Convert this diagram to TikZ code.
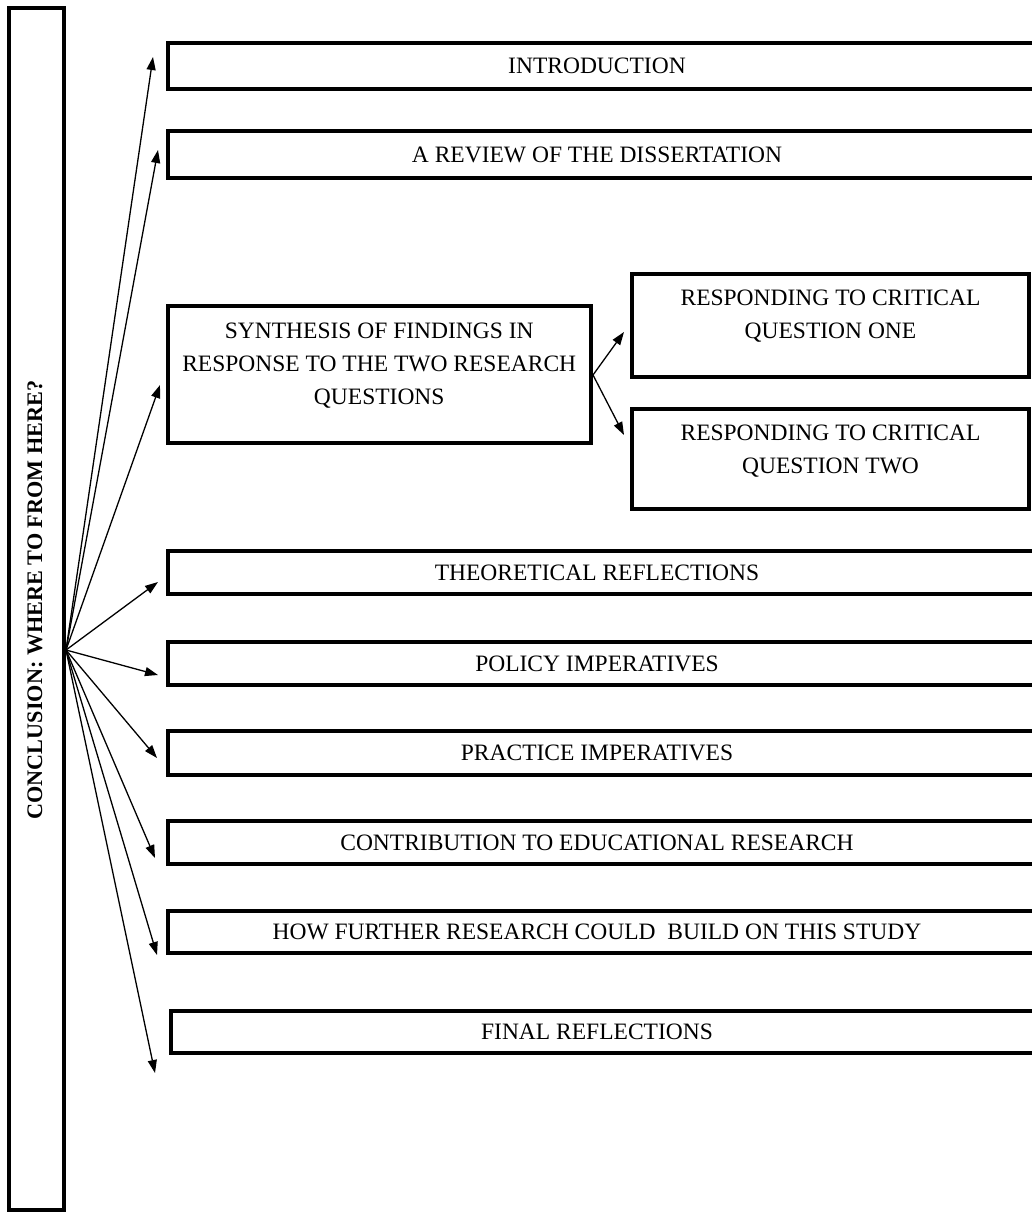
\documentclass[tikz,border=0pt]{standalone}
\usepackage{fontspec}
\setmainfont{Liberation Serif}
\usetikzlibrary{arrows.meta,calc}
\begin{document}
\begin{tikzpicture}[x=1pt,y=-1pt,
  box/.style={draw=black, line width=4pt, inner sep=0pt, outer sep=0pt, rectangle},
  lbl/.style={font=\fontsize{23.5}{33}\selectfont, inner sep=0pt, align=center, text height=15.5pt, text depth=0pt},
  side/.style={font=\fontsize{22.2}{28}\selectfont\bfseries, inner sep=0pt, rotate=90},
  arr/.style={line width=1.3pt, -{Triangle[length=13pt,width=9pt]}}
]
\useasboundingbox (0,0) rectangle (1032,1212);
\begin{scope}
\clip (0,0) rectangle (1032,1212);
% left bar
\node[box, minimum width=55pt, minimum height=1202pt] (bar) at (36.5,609) {};
\node[side] (bartext) at (35,600) {CONCLUSION: WHERE TO FROM HERE?};
% boxes
\node[box, minimum width=872.5pt, minimum height=45.5pt] (intro) at (603.75,66.25) {};
\node[box, minimum width=872.5pt, minimum height=46pt] (review) at (603.75,154.5) {};
\node[box, minimum width=423.5pt, minimum height=137.5pt] (syn) at (379.25,374.25) {};
\node[box, minimum width=397pt, minimum height=102.5pt] (q1) at (830.5,325.25) {};
\node[box, minimum width=397pt, minimum height=100pt] (q2) at (830.5,459) {};
\node[box, minimum width=872.5pt, minimum height=43.5pt] (theo) at (603.75,572.25) {};
\node[box, minimum width=872.5pt, minimum height=43pt] (policy) at (603.75,663.5) {};
\node[box, minimum width=872.5pt, minimum height=44pt] (practice) at (603.75,753) {};
\node[box, minimum width=872.5pt, minimum height=43pt] (contrib) at (603.75,842.5) {};
\node[box, minimum width=872.5pt, minimum height=42pt] (how) at (603.75,931.5) {};
\node[box, minimum width=869pt, minimum height=42pt] (final) at (605.5,1031.5) {};
\end{scope}
% labels
\node[lbl] (tintro) at (597,66.25) {INTRODUCTION};
\node[lbl] (treview) at (597,154.5) {A REVIEW OF THE DISSERTATION};
\node[lbl] (tsyn) at (379.25,396.25) {SYNTHESIS OF FINDINGS IN\\RESPONSE TO THE TWO RESEARCH\\QUESTIONS};
\node[lbl] (tq1) at (830.5,330.25) {RESPONDING TO CRITICAL\\QUESTION ONE};
\node[lbl] (tq2) at (830.5,465.25) {RESPONDING TO CRITICAL\\QUESTION TWO};
\node[lbl] (ttheo) at (597,572.25) {THEORETICAL REFLECTIONS};
\node[lbl] (tpolicy) at (597,663.5) {POLICY IMPERATIVES};
\node[lbl] (tpractice) at (597,753) {PRACTICE IMPERATIVES};
\node[lbl] (tcontrib) at (597,842.5) {CONTRIBUTION TO EDUCATIONAL RESEARCH};
\node[lbl] (thow) at (597,931.5) {HOW FURTHER RESEARCH COULD~~BUILD ON THIS STUDY};
\node[lbl] (tfinal) at (597,1031.5) {FINAL REFLECTIONS};
% arrow ends
\coordinate (o) at (66,650);
\coordinate (eintro) at (153,57);
\coordinate (ereview) at (158,150);
\coordinate (esyn) at (160,385);
\coordinate (etheo) at (158,582);
\coordinate (epolicy) at (158,675);
\coordinate (epractice) at (157,758);
\coordinate (econtrib) at (155,858);
\coordinate (ehow) at (157,955);
\coordinate (efinal) at (155,1073);
\coordinate (s) at (593,375);
\coordinate (eq1) at (624,332);
\coordinate (eq2) at (624,435);
\foreach \e in {eintro,ereview,esyn,etheo,epolicy,epractice,econtrib,ehow,efinal}
  \draw[arr] (o) -- (\e);
\draw[arr] (s) -- (eq1);
\draw[arr] (s) -- (eq2);
\end{tikzpicture}
\end{document}
